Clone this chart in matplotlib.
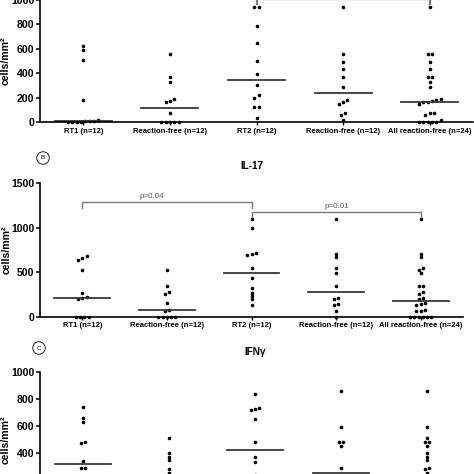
import numpy as np
import matplotlib
matplotlib.use("Agg")
import matplotlib.pyplot as plt

plt.rcParams['font.family'] = ['Liberation Sans', 'DejaVu Sans']

categories = ["RT1 (n=12)", "Reaction-free (n=12)", "RT2 (n=12)",
              "Reaction-free (n=12)", "All reaction-free (n=24)"]

# top panel (label cut off)
a_rt1 = [620, 590, 510, 180, 20, 10, 10, 5, 0, 0, 0, 0]
a_rf1 = [555, 365, 325, 190, 175, 160, 70, 0, 0, 0, 0, 0]
a_rt2 = [940, 940, 790, 650, 500, 390, 300, 220, 200, 120, 120, 30]
a_rf2 = [940, 560, 490, 435, 365, 290, 180, 160, 145, 75, 55, 20]
a_all = a_rf1 + a_rf2

# IL-17
b_rt1 = [680, 660, 640, 530, 270, 220, 205, 200, 0, 0, 0, 0]
b_rf1 = [530, 340, 275, 250, 150, 80, 60, 0, 0, 0, 0, 0]
b_rt2 = [1100, 1000, 720, 710, 695, 545, 436, 320, 270, 233, 196, 132]
b_rf2 = [1100, 700, 670, 550, 490, 350, 215, 195, 140, 135, 60, 0]
b_all = b_rf1 + b_rf2

# IFNg
c_rt1 = [738, 662, 628, 485, 473, 343, 294, 294, 200, 150, 100, 50]
c_rf1 = [515, 404, 375, 351, 282, 257, 230, 180, 120, 80, 40, 0]
c_rt2 = [834, 730, 723, 720, 650, 481, 373, 334, 240, 180, 120, 60]
c_rf2 = [860, 591, 483, 483, 454, 294, 220, 170, 120, 80, 40, 0]
c_all = c_rf1 + c_rf2

GRAY = "#7a7a7a"


def px(l, b, w, h):
    return [l / 474, b / 474, w / 474, h / 474]


def swarm(vals, thr, step=0.05):
    vals = np.sort(np.asarray(vals, float))
    xs = np.zeros(len(vals))
    i = 0
    while i < len(vals):
        j = i
        while j + 1 < len(vals) and vals[j + 1] - vals[j] < thr:
            j += 1
        n = j - i + 1
        xs[i:j + 1] = (np.arange(n) - (n - 1) / 2) * step
        i = j + 1
    return xs, vals


def panel(ax, groups, ymax, yticks, thr):
    for i, g in enumerate(groups):
        dx, v = swarm(g, thr)
        ax.plot(i + dx, v, 'o', color='black', ms=2.6, mec='none', clip_on=False)
        m = np.median(g)
        ax.plot([i - 0.33, i + 0.33], [m, m], color='#383838', lw=1.3, clip_on=False)
    ax.set_xlim(-0.5, 4.5)
    ax.set_ylim(0, ymax)
    ax.set_yticks(yticks)
    ax.set_xticks(range(5))
    ax.set_xticklabels(categories, fontsize=5.5, fontweight='bold')
    for t in ax.get_yticklabels():
        t.set_fontsize(7.6)
        t.set_fontweight('bold')
    ax.tick_params(axis='y', length=3, width=1.1, pad=1)
    ax.tick_params(axis='x', length=2.5, width=1, pad=1.5)
    for s in ['top', 'right']:
        ax.spines[s].set_visible(False)
    for s in ['left', 'bottom']:
        ax.spines[s].set_linewidth(1.2)
    ax.set_ylabel("cells/mm²", fontsize=7.6, fontweight='bold', labelpad=1)
    ax.yaxis.set_label_coords(-0.068, 0.5)


def bracket(ax, x0, x1, y, drop, lw=1.0, text=None, tx=None, ty=None):
    ax.plot([x0, x0, x1, x1], [y - drop, y, y, y - drop], color=GRAY, lw=lw, clip_on=False)
    if text:
        ax.text(tx, ty, text, color='#555555', fontsize=5.8, ha='center', va='bottom')


fig = plt.figure(figsize=(4.74, 4.74), dpi=100)

axA = fig.add_axes(px(40, 352, 433, 122))
panel(axA, [a_rt1, a_rf1, a_rt2, a_rf2, a_all], 1000, [0, 200, 400, 600, 800, 1000], 25)
bracket(axA, 2, 4, 1005, 35, lw=1.6)

axB = fig.add_axes(px(40, 157.3, 423, 133.4))
panel(axB, [b_rt1, b_rf1, b_rt2, b_rf2, b_all], 1500, [0, 500, 1000, 1500], 30)
bracket(axB, 0, 2, 1285, 60, text="p=0.04", tx=0.82, ty=1310)
bracket(axB, 2, 4, 1178, 60, text="p=0.01", tx=3.01, ty=1205)
axB.set_title("IL-17", fontsize=7.2, fontweight='bold', pad=10)
fig.text(43 / 474, 1 - 158 / 474, "B", fontsize=4.5, ha='center', va='center',
         bbox=dict(boxstyle='circle,pad=0.6', fc='white', ec='black', lw=0.6))

axC = fig.add_axes(px(40, -33.7, 430, 136))
panel(axC, [c_rt1, c_rf1, c_rt2, c_rf2, c_all], 1000, [0, 200, 400, 600, 800, 1000], 20)
axC.set_title("IFNγ", fontsize=7.2, fontweight='bold', pad=12)
fig.text(39 / 474, 1 - 348 / 474, "C", fontsize=4.5, ha='center', va='center',
         bbox=dict(boxstyle='circle,pad=0.6', fc='white', ec='black', lw=0.6))

fig.savefig("out.png", dpi=100)
